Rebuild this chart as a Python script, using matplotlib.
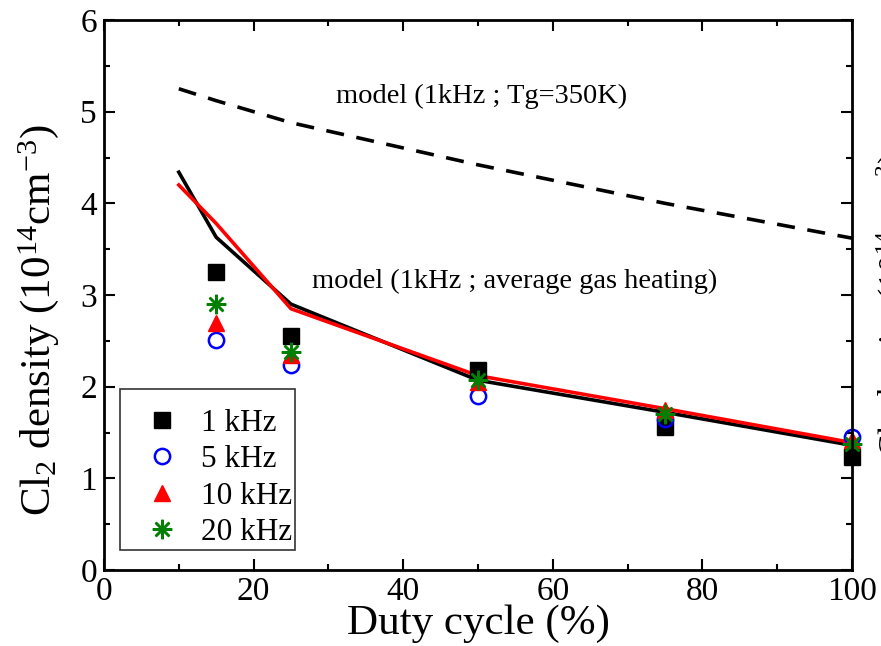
import numpy as np
import matplotlib.pyplot as plt

plt.rcParams['font.family'] = ['Liberation Serif', 'DejaVu Serif']
plt.rcParams['mathtext.fontset'] = 'custom'
plt.rcParams['mathtext.rm'] = 'Liberation Serif'
plt.rcParams['mathtext.it'] = 'Liberation Serif'

### Data
duty = [15, 25, 50, 75, 100]
cl2_1k = [3.25, 2.55, 2.18, 1.56, 1.23]
cl2_5k = [2.51, 2.24, 1.90, 1.65, 1.45]
cl2_10k = [2.70, 2.35, 2.05, 1.75, 1.42]
cl2_20k = [2.90, 2.38, 2.07, 1.70, 1.38]

model_x = [10, 15, 25, 50, 75, 100]
model_350K = [5.25, 5.12, 4.88, 4.42, 4.00, 3.62]
model_heat_black = [4.34, 3.63, 2.90, 2.07, 1.72, 1.36]
model_heat_red = [4.20, 3.78, 2.85, 2.12, 1.76, 1.39]

ylabel = r'Cl$_2$ density (10$^{14}$cm$^{-3}$)'

fig = plt.figure(figsize=(8.81, 6.46), dpi=100)
ax = fig.add_axes([104/881, 1 - 570/646, 748/881, 550/646])

### model lines
ax.plot(model_x, model_350K, 'k--', lw=2.6, dashes=(5, 3.5))
ax.plot(model_x, model_heat_black, 'k-', lw=2.6)
ax.plot(model_x, model_heat_red, 'r-', lw=2.6)

### measurements
ax.plot(duty, cl2_1k, 's', color='k', ms=11, label='1 kHz', clip_on=False)
ax.plot(duty, cl2_5k, 'o', mfc='none', mec='blue', mew=1.8, ms=11,
        label='5 kHz', clip_on=False)
ax.plot(duty, cl2_10k, '^', color='red', ms=12, label='10 kHz', clip_on=False)
ax.plot(duty, cl2_20k, marker=(8, 2, 0), ls='none', color='green', mew=1.8,
        ms=14, label='20 kHz', clip_on=False)

ax.text(50.5, 5.17, 'model (1kHz ; Tg=350K)', fontsize=20.5, ha='center', va='center')
ax.text(54.9, 3.15, 'model (1kHz ; average gas heating)', fontsize=20.5,
        ha='center', va='center')

ax.set_xlim(0, 100)
ax.set_ylim(0, 6)
ax.set_xticks(np.arange(0, 101, 20))
ax.set_xticks(np.arange(0, 101, 10), minor=True)
ax.set_yticks(np.arange(0, 7, 1))
ax.set_yticks(np.arange(0, 6.1, 0.5), minor=True)
ax.tick_params(which='both', direction='in', top=True, right=True,
               labelsize=24, width=1.5)
ax.tick_params(which='major', length=8, pad=5)
ax.tick_params(which='minor', length=4)
for s in ax.spines.values():
    s.set_linewidth(2)

ax.set_xlabel('Duty cycle (%)', fontsize=31, labelpad=-2)
ax.set_ylabel(ylabel, fontsize=31)
ax.yaxis.set_label_coords(-0.058, 0.455)

### clipped label at the right edge
fig.text(875/881, 1 - 305/646, ylabel, fontsize=24, rotation=90,
         ha='left', va='center')

leg = ax.legend(loc='lower left', bbox_to_anchor=(0.021, 0.036), fontsize=22.5,
                frameon=True, fancybox=False, edgecolor='k', handletextpad=0.0,
                borderpad=0.1, labelspacing=0.24, handlelength=2.5,
                borderaxespad=0, title=' ', title_fontsize=8)
leg.get_frame().set_linewidth(1.2)

fig.savefig('out.png', dpi=100)
